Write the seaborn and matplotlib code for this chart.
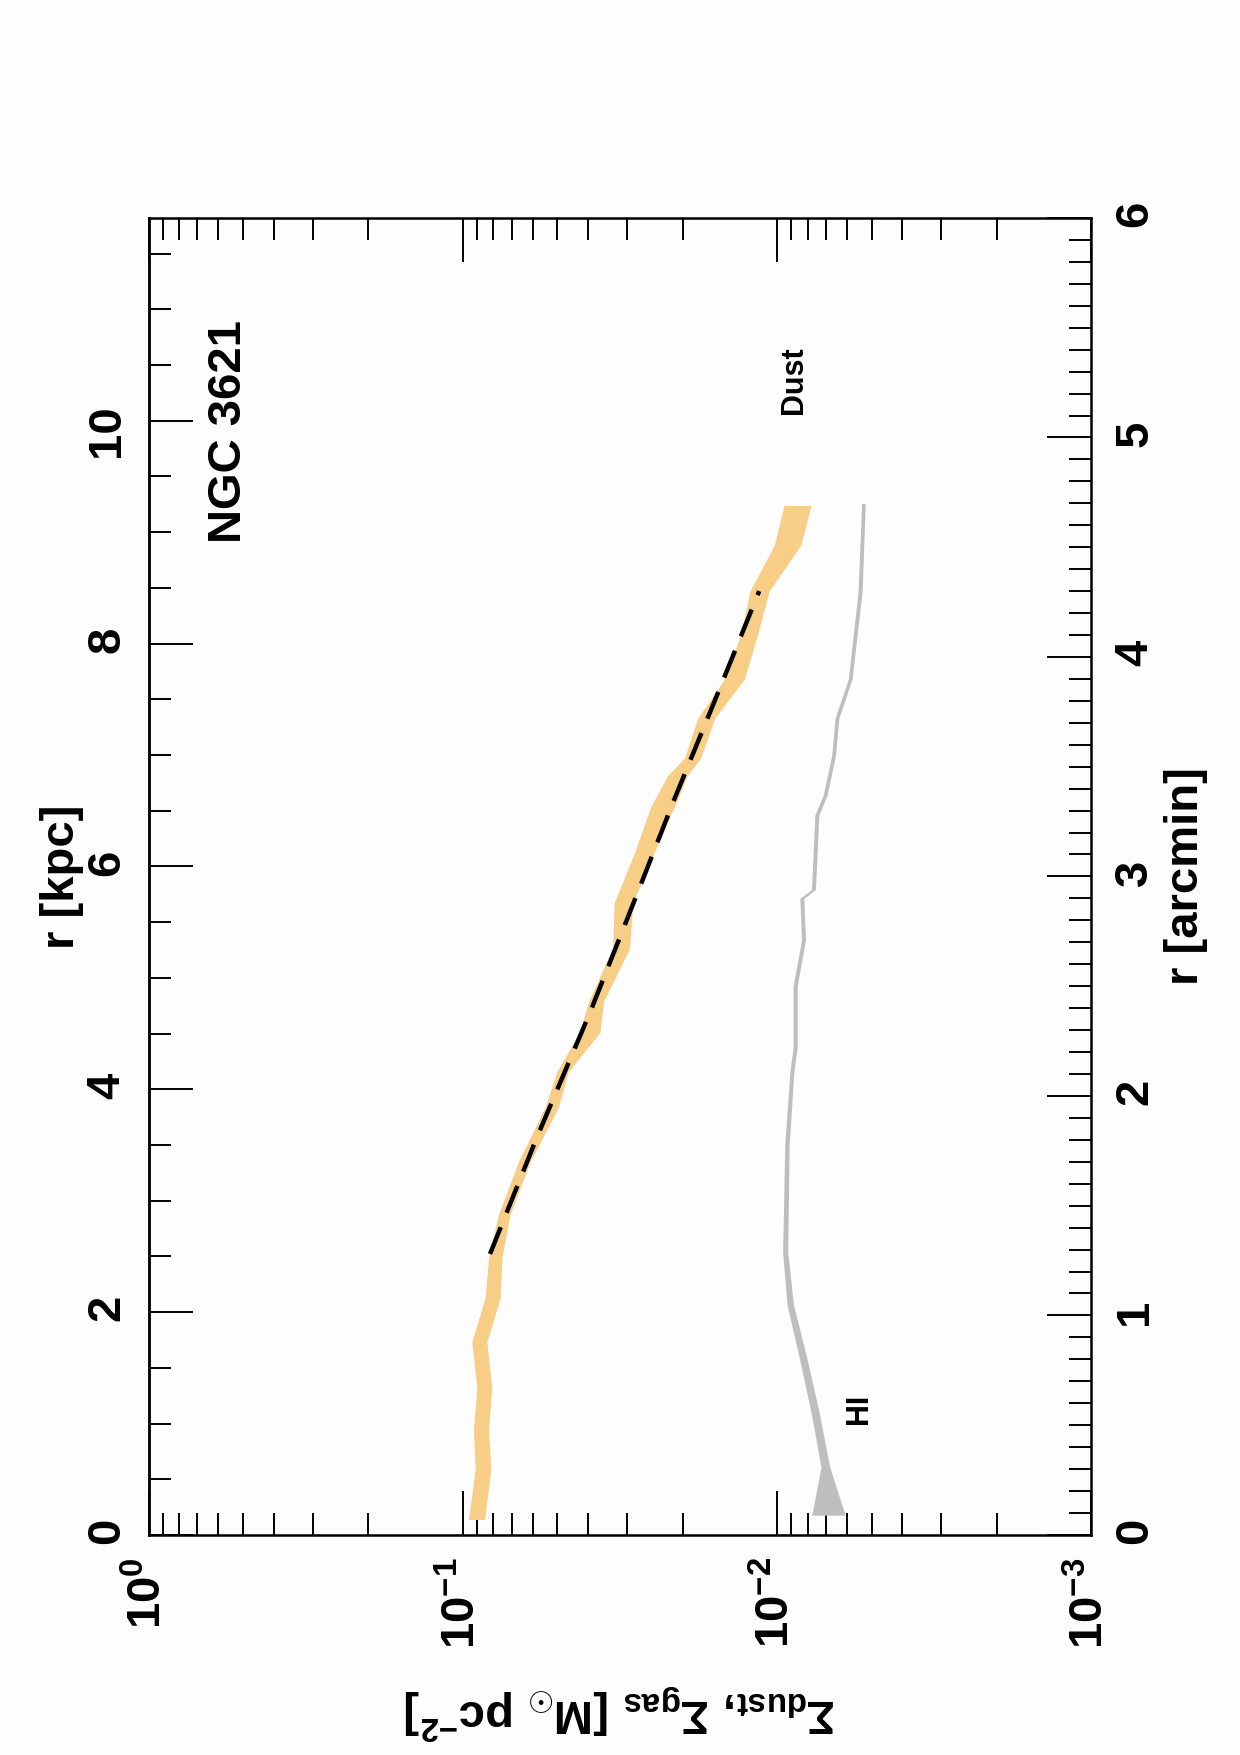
import matplotlib
matplotlib.use('Agg')
import matplotlib.pyplot as plt
import seaborn as sns
from matplotlib.ticker import MultipleLocator, LogLocator, NullFormatter

# radial profiles of NGC 3621, r in arcmin, surface densities in Msun pc^-2
dust_r = [0.07, 0.30, 0.48, 0.67, 0.88, 1.08, 1.26, 1.46, 1.70, 1.95, 2.11, 2.29,
          2.43, 2.67, 2.88, 3.11, 3.32, 3.46, 3.54, 3.72, 3.90, 4.11, 4.30, 4.51, 4.69]
dust_hi = [0.0960, 0.0914, 0.0926, 0.0903, 0.0937, 0.0850, 0.0829, 0.0771, 0.0666,
           0.0547, 0.0503, 0.0425, 0.0398, 0.0334, 0.0330, 0.0284, 0.0252, 0.0223,
           0.0197, 0.0179, 0.0147, 0.0130, 0.0122, 0.0102, 0.0095]
dust_lo = [0.0853, 0.0815, 0.0829, 0.0810, 0.0839, 0.0761, 0.0752, 0.0708, 0.0611,
           0.0496, 0.0462, 0.0366, 0.0357, 0.0295, 0.0288, 0.0246, 0.0212, 0.0193,
           0.0175, 0.0158, 0.0127, 0.0115, 0.0106, 0.0084, 0.0078]

hi_r = [0.09, 0.31, 0.56, 0.80, 1.05, 1.29, 1.78, 2.11, 2.22, 2.50, 2.71, 2.90,
        2.94, 3.28, 3.37, 3.55, 3.72, 3.90, 4.30, 4.70]
hi_hi = [0.00775, 0.00725, 0.00780, 0.00848, 0.00930, 0.00960, 0.00945, 0.00910,
         0.00889, 0.00889, 0.00836, 0.00846, 0.00777, 0.00758, 0.00713, 0.00670,
         0.00654, 0.00593, 0.00552, 0.00538]
hi_lo = [0.00607, 0.00680, 0.00735, 0.00802, 0.00887, 0.00925, 0.00915, 0.00884,
         0.00863, 0.00863, 0.00812, 0.00822, 0.00755, 0.00736, 0.00693, 0.00652,
         0.00636, 0.00577, 0.00536, 0.00524]

# exponential fit to the dust profile
fit_r = [1.28, 1.81, 2.38, 2.92, 3.34, 3.79, 4.30]
fit_sigma = [0.0820, 0.0582, 0.0394, 0.0279, 0.0214, 0.0159, 0.0114]

kpc_per_arcmin = 1.97

sns.set_theme(style='ticks')
plt.rcParams['font.family'] = ['Liberation Sans', 'DejaVu Sans']
plt.rcParams['font.weight'] = 'bold'
plt.rcParams['axes.labelweight'] = 'bold'
plt.rcParams['axes.unicode_minus'] = False
plt.rcParams['mathtext.fontset'] = 'custom'
plt.rcParams['mathtext.rm'] = 'Liberation Sans:bold'
plt.rcParams['mathtext.it'] = 'Liberation Sans:bold'
plt.rcParams['mathtext.bf'] = 'Liberation Sans:bold'
plt.rcParams['mathtext.sf'] = 'Liberation Sans:bold'
for key in ['text.color', 'axes.labelcolor', 'xtick.color', 'ytick.color']:
    plt.rcParams[key] = 'black'

bg = '#fdfdfd'
fig = plt.figure(figsize=(12.4, 17.55), dpi=100, facecolor=bg)
ax = fig.add_axes([0.120, 0.1254, 0.760, 0.7504])
ax.set_facecolor(bg)

# the page is rotated: surface density runs horizontally, radius vertically
ax.fill_betweenx(dust_r, dust_lo, dust_hi, color='#f8cd86', lw=0)
ax.fill_betweenx(hi_r, hi_lo, hi_hi, color='#bebebe', lw=0)
sns.lineplot(x=fit_sigma, y=fit_r, orient='y', sort=False, estimator=None,
             color='black', lw=3.2, linestyle=(0, (6.5, 3.5)), ax=ax)

ax.set_xscale('log')
ax.set_xlim(1, 1e-3)
ax.set_ylim(0, 6)

for s in ax.spines.values():
    s.set_linewidth(1.8)
    s.set_color('black')

# surface density axis (bottom labels, ticks on both sides)
ax.xaxis.set_major_locator(LogLocator(base=10))
ax.xaxis.set_minor_locator(LogLocator(base=10, subs=range(2, 10)))
ax.xaxis.set_minor_formatter(NullFormatter())
ax.tick_params(axis='x', which='both', direction='in', top=True, bottom=True,
               labeltop=False, labelbottom=True, color='black')
ax.tick_params(axis='x', which='major', length=32, width=1.4, labelsize=34,
               pad=16, labelrotation=90)
ax.tick_params(axis='x', which='minor', length=16, width=1.4)

# arcmin axis on the right
ax.yaxis.tick_right()
ax.yaxis.set_label_position('right')
ax.yaxis.set_major_locator(MultipleLocator(1))
ax.yaxis.set_minor_locator(MultipleLocator(0.1))
ax.tick_params(axis='y', which='both', direction='in', left=False, right=True,
               color='black')
ax.tick_params(axis='y', which='major', length=32, width=1.4, labelsize=34,
               pad=16, labelrotation=90)
ax.tick_params(axis='y', which='minor', length=16, width=1.4)
ax.set_ylabel('r [arcmin]', fontsize=34, fontweight='bold', rotation=90, labelpad=5)

# kpc axis on the left
sec = ax.secondary_yaxis('left', functions=(lambda a: a * kpc_per_arcmin,
                                             lambda k: k / kpc_per_arcmin))
sec.yaxis.set_major_locator(MultipleLocator(2))
sec.yaxis.set_minor_locator(MultipleLocator(0.5))
sec.tick_params(which='both', direction='in', color='black')
sec.tick_params(which='major', length=32, width=1.4, labelsize=34, pad=14,
                labelrotation=90)
sec.tick_params(which='minor', length=16, width=1.4)
sec.spines['left'].set_linewidth(1.8)
sec.set_ylabel('r [kpc]', fontsize=34, fontweight='bold', labelpad=1)

ax.set_xlabel(r'$\Sigma_{\mathrm{dust}}$, $\Sigma_{\mathrm{gas}}$ [M$_{\odot}$ pc$^{-2}$]',
              fontsize=34, fontweight='bold', rotation=180, rotation_mode='default',
              labelpad=24)

ax.text(0.0855, 0.838, 'NGC 3621', transform=ax.transAxes, rotation=90,
        ha='center', va='center', fontsize=34, fontweight='bold')
ax.text(0.685, 0.877, 'Dust', transform=ax.transAxes, rotation=90,
        ha='center', va='center', fontsize=22, fontweight='bold')
ax.text(0.754, 0.096, 'HI', transform=ax.transAxes, rotation=90,
        ha='center', va='center', fontsize=22, fontweight='bold')

fig.savefig('out.png', dpi=100, facecolor=bg)
